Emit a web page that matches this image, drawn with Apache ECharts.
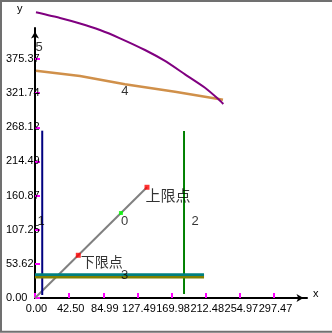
<!DOCTYPE html>
<html>
<head>
<meta charset="utf-8">
<script src="https://cdn.jsdelivr.net/npm/echarts@6/dist/echarts.min.js"></script>
<style>
html,body{margin:0;padding:0;background:#fff;}
#chart{width:332px;height:333px;}
</style>
</head>
<body>
<div id="chart"></div>
<script>
// ---- tick labels ----
const xTickLabels = ['0.00','42.50','84.99','127.49','169.98','212.48','254.97','297.47'];
const yTickLabels = ['0.00','53.62','107.25','160.87','214.49','268.12','321.74','375.37'];
const xAxisMax = 338.56;
const yAxisMax = 424.06;

// ---- series values ----
// series 0 : diagonal line with its marked points
const diagX = [0, 139.4];
const diagY = [0, 173.9];
const pointNames = ['下限点', '', '上限点'];
const pointX = [53.9, 107, 139.4];
const pointY = [67.1, 133.5, 173.9];
// series 1 : navy vertical line
const navyX = [9, 9];
const navyY = [4.7, 262.8];
// series 2 : green vertical line
const greenX = [185.5, 185.5];
const greenY = [6.3, 262.3];
// series 3 : teal and olive horizontal lines
const tealX = [0, 210.4];
const tealY = [36.6, 36.6];
const oliveX = [0, 210.4];
const oliveY = [32.7, 32.7];
// series 4 : orange line
const orangeX = [1.2, 56, 112, 174.3, 234];
const orangeY = [357, 348.7, 335.6, 324, 311.5];
// series 5 : purple curve
const purpleX = [1.2, 31.1, 56, 80.9, 105.8, 136.9, 161.8, 186.7, 211.6, 228.2, 234.4];
const purpleY = [448.7, 439.8, 431.2, 420.9, 407.9, 389.5, 372.3, 351.3, 330.3, 312.5, 304.7];
// series number labels
const numLabelText = ['0', '1', '2', '3', '4', '5'];
const numLabelX = [111.4, 7.5, 199.2, 111.4, 112, 5];
const numLabelY = [120.5, 120.9, 120.5, 35.3, 324.6, 394.2];

function zip(xs, ys) { return xs.map((x, i) => [x, ys[i]]); }

const xTickValues = xTickLabels.map(Number);
const yTickValues = yTickLabels.map(Number);

const chart = echarts.init(document.getElementById('chart'), null, {renderer: 'canvas'});

const baseFont = 'Liberation Sans, Arial, sans-serif';
const cjkFont = 'Noto Sans CJK SC, sans-serif';

function lineSeries(xs, ys, color, width, extra) {
  return Object.assign({
    type: 'line',
    data: zip(xs, ys),
    symbol: 'none',
    lineStyle: {color: color, width: width},
    itemStyle: {color: color},
    silent: true,
    clip: false
  }, extra || {});
}

const pointColors = ['#ff0000', '#00ff00', '#ff0000'];
const pointSizes = [5, 4, 5];
const pointLabelPos = [[5, 2], [0, 0], [1, 3]];
const pointLabelSize = [14, 14, 15];

const option = {
  animation: false,
  backgroundColor: '#fff',
  grid: {left: 35, top: 28, width: 272, height: 270, outerBoundsMode: 'none', containLabel: false},
  xAxis: {
    type: 'value', min: 0, max: xAxisMax,
    axisLine: {show: true, onZero: false, lineStyle: {color: '#000', width: 2},
      symbol: ['none', 'arrow'], symbolSize: [6, 7], symbolOffset: [0, -3.5]},
    axisTick: {show: true, inside: true, length: 5, customValues: xTickValues,
      lineStyle: {color: '#ff00ff', width: 2}},
    axisLabel: {
      customValues: xTickValues,
      formatter: function (v) { return v.toFixed(2); },
      margin: 5, fontSize: 11, color: '#000', fontFamily: baseFont, padding: [0, 0, 0, 3],
      hideOverlap: false
    },
    splitLine: {show: false}
  },
  yAxis: {
    type: 'value', min: 0, max: yAxisMax,
    axisLine: {show: true, onZero: false, lineStyle: {color: '#000', width: 2},
      symbol: ['none', 'arrow'], symbolSize: [6, 7], symbolOffset: [0, -3.5]},
    axisTick: {show: true, inside: true, length: 5, customValues: yTickValues,
      lineStyle: {color: '#ff00ff', width: 2}},
    axisLabel: {
      customValues: yTickValues,
      formatter: function (v) { return v.toFixed(2); },
      margin: 29, align: 'left', fontSize: 11, color: '#000', fontFamily: baseFont, padding: [6, 0, 0, 0],
      hideOverlap: false
    },
    splitLine: {show: false}
  },
  graphic: [
    {type: 'rect', shape: {x: 1, y: 1, width: 360, height: 330.7}, style: {fill: 'none', stroke: '#707070', lineWidth: 2}, silent: true, z: 100},
    {type: 'text', left: 17, top: 3, style: {text: 'y', fontSize: 11, fill: '#000', font: '11px ' + baseFont}},
    {type: 'text', left: 313, top: 288, style: {text: 'x', fontSize: 11, fill: '#000', font: '11px ' + baseFont}}
  ],
  series: [
    lineSeries(diagX, diagY, '#808080', 2),
    lineSeries(navyX, navyY, '#000080', 2),
    lineSeries(greenX, greenY, '#008000', 2),
    lineSeries(tealX, tealY, '#008080', 3),
    lineSeries(oliveX, oliveY, '#808000', 2.5),
    lineSeries(orangeX, orangeY, '#d0904a', 2.5),
    lineSeries(purpleX, purpleY, '#800080', 2, {smooth: 0.2}),
    {
      type: 'scatter', silent: true, clip: false, z: 5,
      data: pointX.map((x, i) => ({
        value: [x, pointY[i]],
        symbol: 'rect', symbolSize: pointSizes[i],
        itemStyle: {color: pointColors[i]},
        label: {
          show: pointNames[i] !== '', formatter: pointNames[i],
          position: pointLabelPos[i], align: 'left', verticalAlign: 'top',
          fontSize: pointLabelSize[i], color: '#000', fontFamily: cjkFont
        }
      }))
    },
    {
      type: 'scatter', silent: true, clip: false, z: 6,
      symbolSize: 0,
      data: numLabelX.map((x, i) => ({value: [x, numLabelY[i]], name: numLabelText[i]})),
      label: {show: true, position: 'inside', formatter: '{b}', fontSize: 13, color: '#000',
        fontFamily: baseFont, align: 'center', verticalAlign: 'middle'}
    }
  ]
};
chart.setOption(option);
</script>
</body>
</html>
